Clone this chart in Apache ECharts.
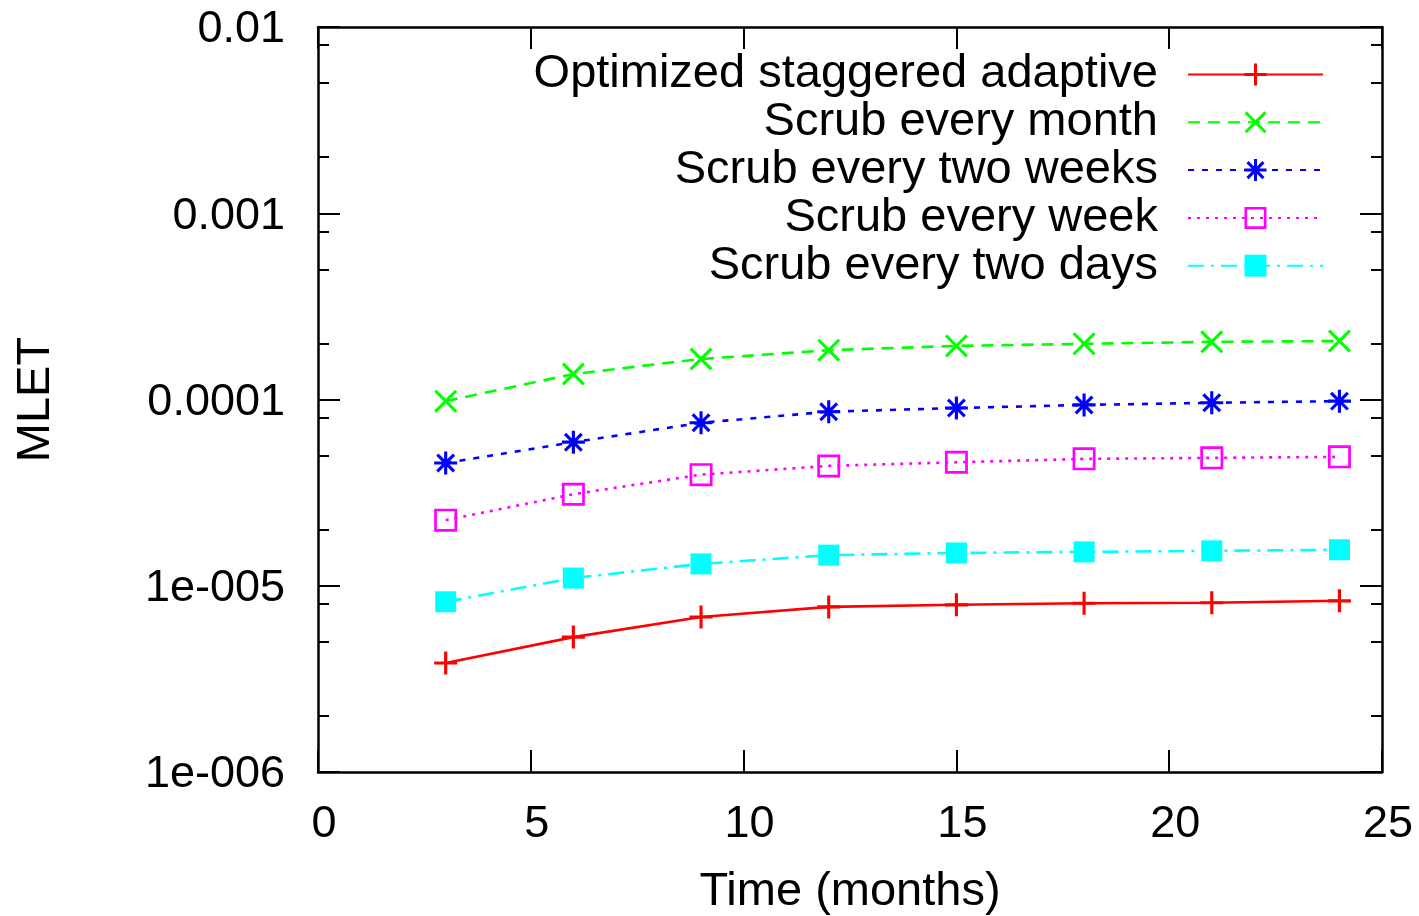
<!DOCTYPE html>
<html>
<head>
<meta charset="utf-8">
<title>MLET</title>
<script src="https://cdn.jsdelivr.net/npm/echarts@6/dist/echarts.min.js"></script>
<style>
    html, body { margin: 0; padding: 0; background: #fff; }
    #main { width: 1419px; height: 916px; }
</style>
</head>
<body>
<div id="main"></div>
<script>
    // data
    var months = [3, 6, 9, 12, 15, 18, 21, 24];
    var optimized = [3.85e-6, 5.3e-6, 6.8e-6, 7.7e-6, 7.9e-6, 8.05e-6, 8.1e-6, 8.3e-6];
    var scrubMonth = [9.8e-5, 1.37e-4, 1.65e-4, 1.84e-4, 1.94e-4, 1.99e-4, 2.04e-4, 2.06e-4];
    var scrubTwoWeeks = [4.56e-5, 5.9e-5, 7.5e-5, 8.6e-5, 9.0e-5, 9.35e-5, 9.6e-5, 9.8e-5];
    var scrubWeek = [2.25e-5, 3.1e-5, 3.95e-5, 4.4e-5, 4.6e-5, 4.8e-5, 4.86e-5, 4.92e-5];
    var scrubTwoDays = [8.2e-6, 1.1e-5, 1.31e-5, 1.46e-5, 1.5e-5, 1.52e-5, 1.54e-5, 1.56e-5];
    var seriesNames = ['Optimized staggered adaptive', 'Scrub every month', 'Scrub every two weeks', 'Scrub every week', 'Scrub every two days'];
    var yTickLabels = ['1e-006', '1e-005', '0.0001', '0.001', '0.01'];
    var yMinorTicks = [2e-6, 5e-6, 8e-6, 2e-5, 5e-5, 8e-5, 2e-4, 5e-4, 8e-4, 2e-3, 5e-3, 8e-3];

    var FONT = '"Liberation Sans", Arial, Helvetica, sans-serif';

    // gnuplot style point shapes
    var SYM_PLUS = 'path://M9.5,0H12.5V22H9.5Z M0,9.5H22V12.5H0Z';
    var SYM_CROSS = 'path://M0,2.1L2.1,0L22,19.9L19.9,22Z M19.9,0L22,2.1L2.1,22L0,19.9Z';
    var SYM_STAR = 'path://M9.5,0H12.5V22H9.5Z M0,9.5H22V12.5H0Z M4.06,1.94L20.06,17.94L17.94,20.06L1.94,4.06Z M17.94,1.94L20.06,4.06L4.06,20.06L1.94,17.94Z';
    var SYM_BOX = 'path://M0,0H22V22H0Z M2.6,2.6V19.4H19.4V2.6Z';

    function pairs(xs, ys){
        var out = [];
        for(var i = 0; i < xs.length; i++){
            out.push([xs[i], ys[i]]);
        }
        return out;
    }

    function mkSeries(name, values, color, dash, symbol, size){
        return {
            name: name,
            type: 'line',
            data: pairs(months, values),
            symbol: symbol,
            symbolSize: size,
            showAllSymbol: true,
            lineStyle: { color: color, width: 2.6, type: dash },
            itemStyle: { color: color, borderWidth: 0 },
            emphasis: { disabled: true }
        };
    }

    function yAxisLog(pos, major){
        return {
            type: 'log',
            logBase: 10,
            min: 1e-6,
            max: 1e-2,
            position: pos,
            splitLine: { show: false },
            axisLine: { show: major, lineStyle: { color: '#000', width: 2.5 } },
            axisTick: major ? {
                show: true, inside: true, length: 22,
                lineStyle: { color: '#000', width: 2 }
            } : {
                show: true, inside: true, length: 11,
                customValues: yMinorTicks,
                lineStyle: { color: '#000', width: 2 }
            },
            axisLabel: (major && pos === 'left') ? {
                show: true,
                margin: 33,
                fontFamily: FONT,
                fontSize: 45,
                color: '#000',
                formatter: function(v){
                    var e = Math.round(Math.log(v) / Math.LN10);
                    return '{t|' + yTickLabels[e + 6] + '}';
                },
                rich: {
                    t: { fontFamily: FONT, fontSize: 45, color: '#000', padding: [6, 0, 0, 0] }
                }
            } : { show: false },
            minorTick: { show: false }
        };
    }

    var myChart = echarts.init(document.getElementById('main'));
    var option = {
        animation: false,
        backgroundColor: '#fff',
        grid: { left: 318, right: 37, top: 27, bottom: 144, containLabel: false, outerBoundsMode: 'none' },
        legend: {
            orient: 'vertical',
            align: 'right',
            right: 90,
            top: 46,
            itemWidth: 135,
            itemHeight: 27.5,
            itemGap: 0.8,
            selectedMode: false,
            textStyle: { fontFamily: FONT, fontSize: 47, color: '#000', padding: [0, 25, 0, 0] },
            data: seriesNames
        },
        xAxis: [{
            type: 'value',
            min: 0,
            max: 25,
            interval: 5,
            position: 'bottom',
            name: 'Time (months)',
            nameLocation: 'middle',
            nameGap: 97,
            nameTextStyle: { fontFamily: FONT, fontSize: 47, color: '#000' },
            splitLine: { show: false },
            axisLine: { lineStyle: { color: '#000', width: 2.5 } },
            axisTick: { inside: true, length: 22, lineStyle: { color: '#000', width: 2 } },
            axisLabel: { margin: 30, padding: [0, 0, 0, 12], fontFamily: FONT, fontSize: 45, color: '#000' }
        }, {
            type: 'value',
            min: 0,
            max: 25,
            interval: 5,
            position: 'top',
            splitLine: { show: false },
            axisLine: { lineStyle: { color: '#000', width: 2.5 } },
            axisTick: { inside: true, length: 22, lineStyle: { color: '#000', width: 2 } },
            axisLabel: { show: false }
        }],
        yAxis: [
            Object.assign(yAxisLog('left', true), {
                name: 'MLET',
                nameLocation: 'middle',
                nameGap: 258,
                nameRotate: 90,
                nameTextStyle: { fontFamily: FONT, fontSize: 47, color: '#000' }
            }),
            yAxisLog('left', false),
            yAxisLog('right', true),
            yAxisLog('right', false)
        ],
        series: [
            mkSeries(seriesNames[0], optimized, '#ff0000', 'solid', SYM_PLUS, 23),
            mkSeries(seriesNames[1], scrubMonth, '#00ff00', [12, 8], SYM_CROSS, 23),
            mkSeries(seriesNames[2], scrubTwoWeeks, '#0000ff', [6, 8], SYM_STAR, 23),
            mkSeries(seriesNames[3], scrubWeek, '#ff00ff', [3, 6], SYM_BOX, 23),
            mkSeries(seriesNames[4], scrubTwoDays, '#00ffff', [16, 7, 3, 7], 'rect', 21)
        ]
    };
    myChart.setOption(option);
</script>
</body>
</html>
